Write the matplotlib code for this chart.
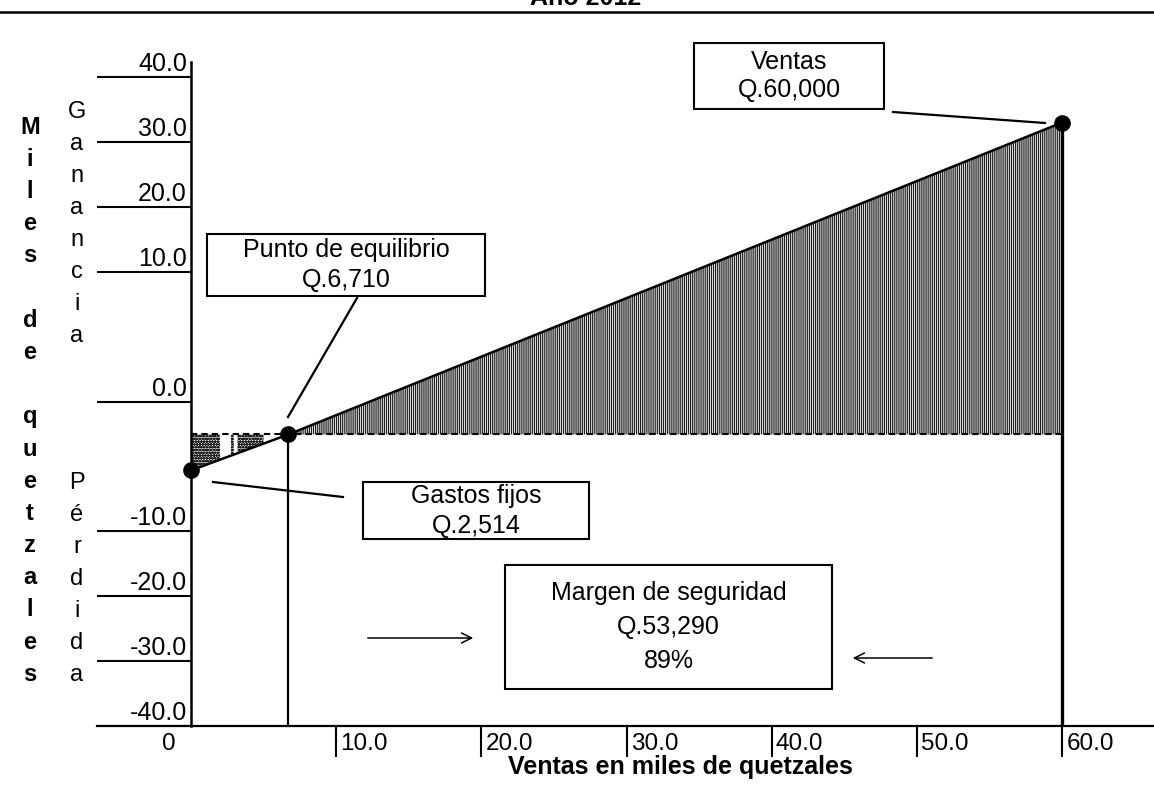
import numpy as np
import matplotlib
matplotlib.use('Agg')
import matplotlib.pyplot as plt
from matplotlib.patches import Rectangle, FancyArrowPatch
from matplotlib.lines import Line2D

plt.rcParams['font.family'] = ['Liberation Sans', 'DejaVu Sans']
plt.rcParams['hatch.linewidth'] = 0.9
plt.rcParams['hatch.color'] = '#1e1e1e'

# datos en miles de quetzales
ventas_x = [0, 6.71, 60]
resultado_y = [-5.3, -2.514, 33.0]
gastos_fijos = -2.514
punto_equilibrio = 6.71
ventas_total = 60
tramos_perdida = [(0, 2.0), (2.75, 2.95), (3.2, 5.0)]

y_ticks = [40, 30, 20, 10, 0, -10, -20, -30, -40]
y_labels = ['40.0', '30.0', '20.0', '10.0', '0.0', '-10.0', '-20.0', '-30.0', '-40.0']
x_ticks = [10, 20, 30, 40, 50, 60]
x_labels = ['10.0', '20.0', '30.0', '40.0', '50.0', '60.0']

# la escala vertical del original no es lineal (0 a +-10 ocupa el doble)
esc_val = [-100, -40, -30, -20, -10, 0, 10, 20, 30, 40, 100]
esc_pos = [-390, 0, 65, 130, 195, 324, 454, 519, 584, 649, 1039]


def fwd(v):
    return np.interp(v, esc_val, esc_pos)


def inv(p):
    return np.interp(p, esc_pos, esc_val)


W, H = 1154, 786
fig = plt.figure(figsize=(W / 100, H / 100), dpi=100)


def fp(x, y):
    return (x / W, 1 - y / H)


ax = fig.add_axes([97 / W, (H - 726) / H, (W - 97) / W, (726 - 40) / H])
ax.set_yscale('function', functions=(fwd, inv))
ax.set_xlim((97 - 191) / 14.52, (W - 191) / 14.52)
ax.set_ylim(-40, float(inv(686)))
ax.set_yticks([])
for s in ['left', 'right', 'top']:
    ax.spines[s].set_visible(False)
ax.spines['bottom'].set_linewidth(1.6)
ax.set_xticks(x_ticks)
ax.tick_params(axis='x', length=22, width=1.5, labelbottom=False)

# eje vertical y lineas de marcas
ax.plot([0, 0], [-40, 42.3], color='black', lw=1.8, clip_on=False)
ax.hlines(y_ticks, ax.get_xlim()[0], 0, color='black', lw=1.5)
for v, lbl in zip(y_ticks, y_labels):
    ax.annotate(lbl, xy=(0, v), xytext=(-3, 4), textcoords='offset points',
                ha='right', va='baseline', fontsize=18)
for v, lbl in zip(x_ticks, x_labels):
    ax.annotate(lbl, xy=(v, 0), xycoords=('data', 'axes fraction'), xytext=(3, -5),
                textcoords='offset points', ha='left', va='top', fontsize=17.5)
ax.annotate('0', xy=(0, 0), xycoords=('data', 'axes fraction'), xytext=(-16, -5),
            textcoords='offset points', ha='center', va='top', fontsize=17.5)

# zona de ganancia
ax.fill_between([punto_equilibrio, ventas_total], gastos_fijos, [gastos_fijos, resultado_y[2]],
                facecolor='white', edgecolor='#1e1e1e', hatch='||||||||', linewidth=0)
# zona de perdida
for a, b in tramos_perdida:
    xs = [a, b]
    ys = np.interp(xs, ventas_x[:2], resultado_y[:2])
    ax.fill_between(xs, ys, gastos_fijos, facecolor='white', edgecolor='#1e1e1e',
                    hatch='oooooo', linewidth=0)

ax.plot([0, ventas_total], [gastos_fijos, gastos_fijos], color='black', lw=1.5, ls=(0, (3, 2)))
ax.plot(ventas_x, resultado_y, color='black', lw=1.8)
ax.plot([punto_equilibrio, punto_equilibrio], [gastos_fijos, -40], color='black', lw=1.6)
ax.plot([ventas_total, ventas_total], [resultado_y[2], -40], color='black', lw=2.4)
ax.plot(ventas_x, resultado_y, 'o', color='black', markersize=11, clip_on=False)


def caja(x0, y0, x1, y1, lineas, paso=31):
    fig.add_artist(Rectangle(fp(x0, y1), (x1 - x0) / W, (y1 - y0) / H,
                             transform=fig.transFigure, fc='white', ec='black', lw=1.5))
    cx, cy = (x0 + x1) / 2, (y0 + y1) / 2
    n = len(lineas)
    for i, t in enumerate(lineas):
        y = cy + (i - (n - 1) / 2) * paso
        fig.text(*fp(cx, y), t, ha='center', va='center', fontsize=18)


def linea(x0, y0, x1, y1):
    fig.add_artist(Line2D([x0 / W, x1 / W], [1 - y0 / H, 1 - y1 / H], color='black', lw=1.6))


caja(694, 43, 884, 109, ['Ventas', 'Q.60,000'], paso=28)
linea(893, 112, 1045, 123)
caja(207, 234, 485, 296, ['Punto de equilibrio', 'Q.6,710'], paso=29)
linea(357, 298, 288, 417)
caja(363, 482, 589, 539, ['Gastos fijos', 'Q.2,514'], paso=30)
linea(213, 482, 343, 497)
caja(505, 565, 832, 689, ['Margen de seguridad', 'Q.53,290', '89%'], paso=34)

for (xa, ya), (xb, yb) in [((365, 638), (476, 638)), ((935, 658), (850, 658))]:
    fig.add_artist(FancyArrowPatch(fp(xa, ya), fp(xb, yb), transform=fig.transFigure,
                                   arrowstyle='->', mutation_scale=18, lw=1.1, color='black'))

# rotulos verticales
for i, ch in enumerate('Miles de quetzales'):
    fig.text(*fp(30, 127 + i * 32.2), ch, ha='center', va='center', fontsize=17, fontweight='bold')
for i, ch in enumerate('Ganancia'):
    fig.text(*fp(77, 112 + i * 32), ch, ha='center', va='center', fontsize=17)
for i, ch in enumerate('Pérdida'):
    fig.text(*fp(77, 483 + i * 32), ch, ha='center', va='center', fontsize=17)

# titulo (cortado arriba, como en el original) y linea superior
fig.text(*fp(586, 5), 'Año 2012', ha='center', va='baseline', fontsize=18, fontweight='bold')
fig.add_artist(Line2D([0, 1], [1 - 12 / H, 1 - 12 / H], color='black', lw=1.8))

fig.text(*fp(680, 767), 'Ventas en miles de quetzales', ha='center', va='center',
         fontsize=18, fontweight='bold')

fig.savefig('out.png', dpi=100)
